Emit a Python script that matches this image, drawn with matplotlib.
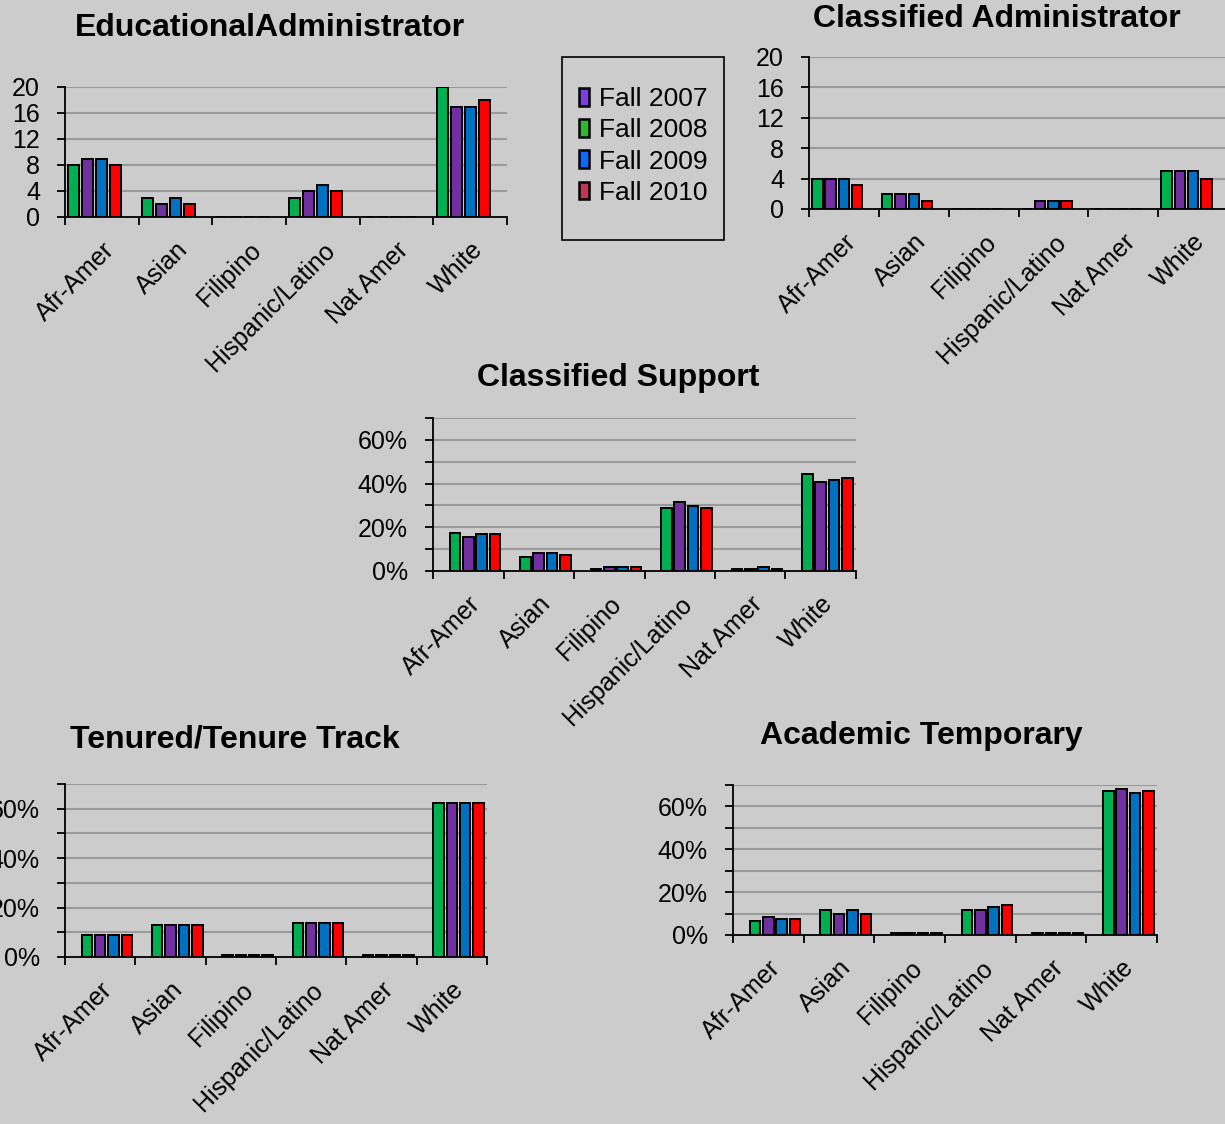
#staff ethnicity charts, Fall 2007 - Fall 2010

import matplotlib.pyplot as plt
from matplotlib.patches import Patch, Rectangle
from matplotlib.ticker import FixedLocator, FuncFormatter

plt.rcParams['font.family'] = ['Liberation Sans', 'DejaVu Sans']

cats = ['Afr-Amer', 'Asian', 'Filipino', 'Hispanic/Latino', 'Nat Amer', 'White']
years = ['Fall 2007', 'Fall 2008', 'Fall 2009', 'Fall 2010']

# values per panel, in bar order: Fall 2008, Fall 2007, Fall 2009, Fall 2010
edu_2008 = [8, 3, 0, 3, 0, 20]
edu_2007 = [9, 2, 0, 4, 0, 17]
edu_2009 = [9, 3, 0, 5, 0, 17]
edu_2010 = [8, 2, 0, 4, 0, 18]

cadm_2008 = [4, 2, 0, 0, 0, 5]
cadm_2007 = [4, 2, 0, 1, 0, 5]
cadm_2009 = [4, 2, 0, 1, 0, 5]
cadm_2010 = [3.2, 1, 0, 1, 0, 4]

csup_2008 = [17.4, 6.6, 0.9, 28.7, 0.9, 44.4]
csup_2007 = [15.7, 8.2, 2.0, 31.5, 0.9, 40.7]
csup_2009 = [16.7, 8.2, 2.0, 29.6, 2.0, 41.7]
csup_2010 = [16.7, 7.4, 2.0, 28.7, 0.9, 42.6]

ten_2008 = [9, 13, 0.7, 13.6, 0.7, 62.4]
ten_2007 = [9, 13, 0.7, 13.6, 0.7, 62.4]
ten_2009 = [9, 13, 0.7, 13.6, 0.7, 62.4]
ten_2010 = [9, 13, 0.7, 13.6, 0.7, 62.4]

atmp_2008 = [6.5, 11.9, 0.8, 11.9, 0.8, 67.4]
atmp_2007 = [8.3, 10.0, 0.8, 11.9, 0.8, 68.3]
atmp_2009 = [7.3, 11.9, 0.8, 13.0, 0.8, 66.5]
atmp_2010 = [7.3, 10.0, 0.8, 13.8, 0.8, 67.4]

bar_colors = ['#00B050', '#7030A0', '#0070C0', '#FF0000']
leg_colors = ['#7B3FE0', '#2DB82D', '#0A6AFF', '#C03850']
bg = '#CCCCCC'
W, H = 1225, 1124

fig = plt.figure(figsize=(12.25, 11.24), dpi=100, facecolor=bg)


def panel(rect, series, title, tpos, pct, shift):
    l, t, r, b = rect
    ax = fig.add_axes([l / W, 1 - b / H, (r - l) / W, (b - t) / H], facecolor=bg)
    slot = 0.19
    x = range(len(cats))
    for i, vals in enumerate(series):
        off = (i + shift) * slot
        ax.bar([c + off for c in x], vals, width=0.15, color=bar_colors[i],
               edgecolor='black', linewidth=1.4, zorder=3)
    ax.set_xlim(-0.5, len(cats) - 0.5)
    if pct:
        ax.set_ylim(0, 70)
        ax.yaxis.set_major_locator(FixedLocator([0, 20, 40, 60]))
        ax.yaxis.set_minor_locator(FixedLocator([10, 30, 50, 70]))
        ax.yaxis.set_major_formatter(FuncFormatter(lambda v, p: '%d%%' % v))
        for g in range(10, 80, 10):
            ax.axhline(g, color='#9A9A9A', lw=1.5, zorder=1)
    else:
        ax.set_ylim(0, 20)
        ax.yaxis.set_major_locator(FixedLocator([0, 4, 8, 12, 16, 20]))
        for g in range(4, 24, 4):
            ax.axhline(g, color='#9A9A9A', lw=1.5, zorder=1)
    ax.xaxis.set_major_locator(FixedLocator([k - 0.5 for k in range(len(cats) + 1)]))
    ax.xaxis.set_major_formatter(FuncFormatter(lambda v, p: ''))
    ax.xaxis.set_minor_locator(FixedLocator(list(x)))
    ax.set_xticklabels(cats, minor=True, rotation=45, ha='right', va='top',
                       rotation_mode='anchor', fontsize=18)
    ax.tick_params(axis='x', which='major', length=6, width=1.3, direction='out')
    ax.tick_params(axis='x', which='minor', length=0, pad=15)
    ax.tick_params(axis='y', which='both', length=6, width=1.3, labelsize=18, pad=12)
    for s in ['top', 'right']:
        ax.spines[s].set_visible(False)
    for s in ['left', 'bottom']:
        ax.spines[s].set_linewidth(1.3)
        ax.spines[s].set_zorder(4)
    fig.text(tpos[0] / W, 1 - tpos[1] / H, title, ha='center', va='center',
             fontsize=23, fontweight='bold')
    return ax


panel((65, 87, 507, 217), [edu_2008, edu_2007, edu_2009, edu_2010],
      'EducationalAdministrator', (270, 28), False, -2)
panel((809, 57, 1228, 209), [cadm_2008, cadm_2007, cadm_2009, cadm_2010],
      'Classified Administrator', (997, 19), False, -2)
panel((433, 418, 856, 571), [csup_2008, csup_2007, csup_2009, csup_2010],
      'Classified Support', (618, 378), True, -1)
panel((65, 784, 487, 957), [ten_2008, ten_2007, ten_2009, ten_2010],
      'Tenured/Tenure Track', (235, 739), True, -1)
panel((733, 785, 1157, 935), [atmp_2008, atmp_2007, atmp_2009, atmp_2010],
      'Academic Temporary', (921, 736), True, -1)

# legend box
fig.patches.append(Rectangle((562 / W, 1 - 240 / H), 162 / W, 183 / H,
                             transform=fig.transFigure, fill=False,
                             edgecolor='black', linewidth=1.2))
handles = [Patch(facecolor=c, edgecolor='black', linewidth=1.8) for c in leg_colors]
fig.legend(handles, years, loc='center', bbox_to_anchor=(643 / W, 1 - 146 / H),
           frameon=False, fontsize=19, handlelength=0.4, handleheight=0.65,
           handletextpad=0.35, labelspacing=0.27)

plt.savefig('out.png', dpi=100, facecolor=bg)
